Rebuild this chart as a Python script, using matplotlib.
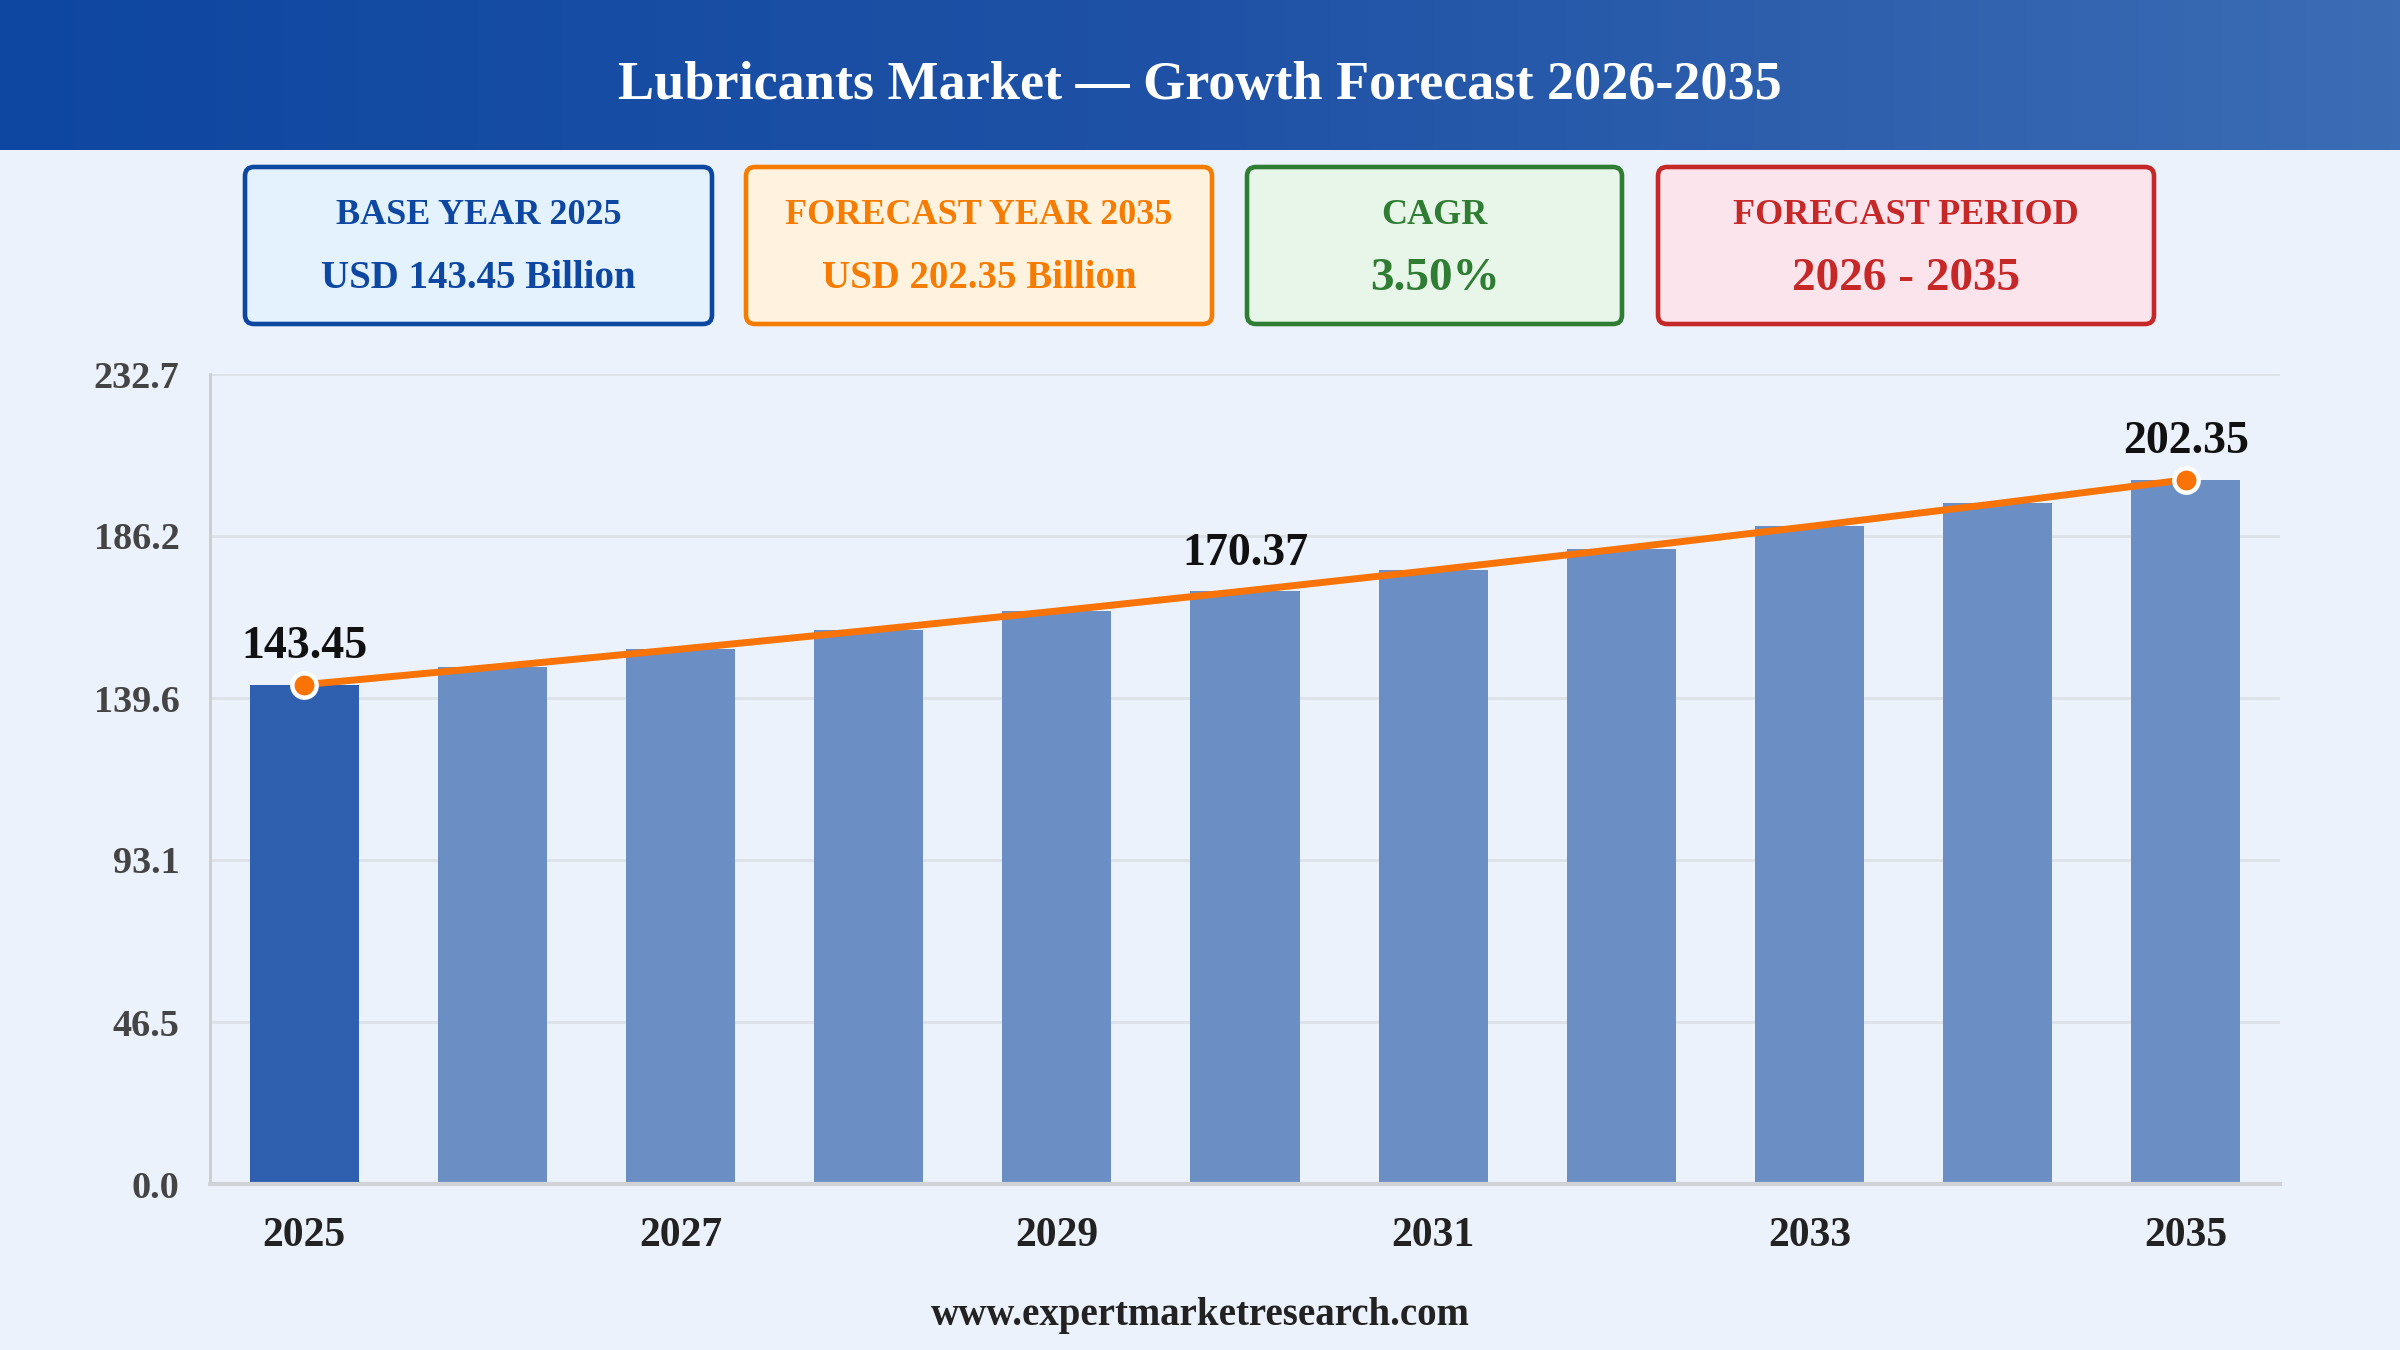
import numpy as np
import matplotlib.pyplot as plt
from matplotlib.patches import FancyBboxPatch
from matplotlib.colors import LinearSegmentedColormap

years = ['2025', '2026', '2027', '2028', '2029', '2030', '2031', '2032', '2033', '2034', '2035']
values = [143.45, 148.47, 153.67, 159.05, 164.61, 170.37, 176.34, 182.51, 188.90, 195.51, 202.35]
y_ticks = [0.0, 46.5, 93.1, 139.6, 186.2, 232.7]
shown_years = ['2025', '2027', '2029', '2031', '2033', '2035']
labelled = ['2025', '2030', '2035']
marked = ['2025', '2035']

title = 'Lubricants Market \u2014 Growth Forecast 2026-2035'
card_heads = ['BASE YEAR 2025', 'FORECAST YEAR 2035', 'CAGR', 'FORECAST PERIOD']
card_values = ['USD 143.45 Billion', 'USD 202.35 Billion', '3.50%', '2026 - 2035']
card_edge = ['#0d47a1', '#f57c00', '#2e7d32', '#c62828']
card_fill = ['#e3f2fd', '#fff3e0', '#e8f5e9', '#fce4ec']
footer = 'www.expertmarketresearch.com'

plt.rcParams['font.family'] = ['Liberation Serif', 'DejaVu Serif']
plt.rcParams['font.weight'] = 'bold'

W, H = 2400, 1350
bg = '#ebf2fb'
fig = plt.figure(figsize=(24, 13.5), dpi=100, facecolor=bg)

# header band with gradient
hdr = fig.add_axes([0, 1 - 150 / H, 1, 150 / H])
cmap = LinearSegmentedColormap.from_list('hdr', ['#0e47a1', '#1f52a6', '#3b6cb4'])
hdr.imshow(np.linspace(0, 1, 256)[None, :], aspect='auto', cmap=cmap, extent=[0, 1, 0, 1])
hdr.axis('off')
hdr.text(0.5, 0.43, title, color='white', fontsize=39, fontweight='bold',
         ha='center', va='center', transform=hdr.transAxes)

# overlay in pixel coords for the cards and footer
ov = fig.add_axes([0, 0, 1, 1], zorder=-1)
ov.set_xlim(0, W)
ov.set_ylim(H, 0)
ov.axis('off')
ov.set_facecolor(bg)

card_x = [(245, 712), (746, 1212), (1247, 1622), (1658, 2154)]
card_top, card_bot = 167, 324
for (x0, x1), head, val, ec, fc in zip(card_x, card_heads, card_values, card_edge, card_fill):
    box = FancyBboxPatch((x0, card_top), x1 - x0, card_bot - card_top,
                         boxstyle='round,pad=0,rounding_size=9',
                         linewidth=3.3, edgecolor=ec, facecolor=fc)
    ov.add_patch(box)
    cx = (x0 + x1) / 2
    ov.text(cx, 215, head, color=ec, fontsize=26, fontweight='bold', ha='center', va='center')
    big = 34 if len(val) < 14 else 28
    ov.text(cx, 279, val, color=ec, fontsize=big, fontweight='bold', ha='center', va='center')

ov.text(W / 2, 1316, footer, color='#222222', fontsize=28, fontweight='bold',
        ha='center', va='center')

# main chart
ax = fig.add_axes([210 / W, (H - 1184) / H, (2280 - 210) / W, (1184 - 374) / H])
ax.set_facecolor(bg)
x = np.arange(len(years))
colors = ['#2f5faf'] + ['#6b8fc4'] * (len(years) - 1)
ax.bar(x, values, width=0.58, color=colors, zorder=2)
ax.plot(x, values, color='#f97306', linewidth=5, zorder=3, solid_capstyle='round')
mi = [years.index(y) for y in marked]
ax.plot(x[mi], [values[i] for i in mi], 'o', markersize=17.5, markerfacecolor='#f97306',
        markeredgecolor='white', markeredgewidth=3.2, zorder=4)
for y in labelled:
    i = years.index(y)
    ax.annotate(f'{values[i]:.2f}', (x[i], values[i]), xytext=(0, 19),
                textcoords='offset points', ha='center', va='baseline',
                fontsize=33, fontweight='bold', color='#111111', zorder=5)

ax.set_xlim(-0.5, len(years) - 0.5)
ax.set_ylim(0, y_ticks[-1])
ax.set_yticks(y_ticks)
ax.set_yticklabels([f'{t:.1f}' for t in y_ticks])
ax.set_xticks([years.index(y) for y in shown_years])
ax.set_xticklabels(shown_years)
ax.tick_params(axis='y', length=0, pad=22, labelsize=27.5, labelcolor='#444444')
ax.tick_params(axis='x', length=0, pad=24, labelsize=30, labelcolor='#222222')
for lab in ax.get_xticklabels() + ax.get_yticklabels():
    lab.set_fontweight('bold')
ax.grid(axis='y', color='#dde2e8', linewidth=2, zorder=0)
ax.set_axisbelow(True)
for s in ['top', 'right']:
    ax.spines[s].set_visible(False)
ax.spines['left'].set_color('#cccccc')
ax.spines['left'].set_linewidth(2)
ax.spines['bottom'].set_color('#cfd3d8')
ax.spines['bottom'].set_linewidth(3)

fig.savefig('out.png', dpi=100, facecolor=bg)
